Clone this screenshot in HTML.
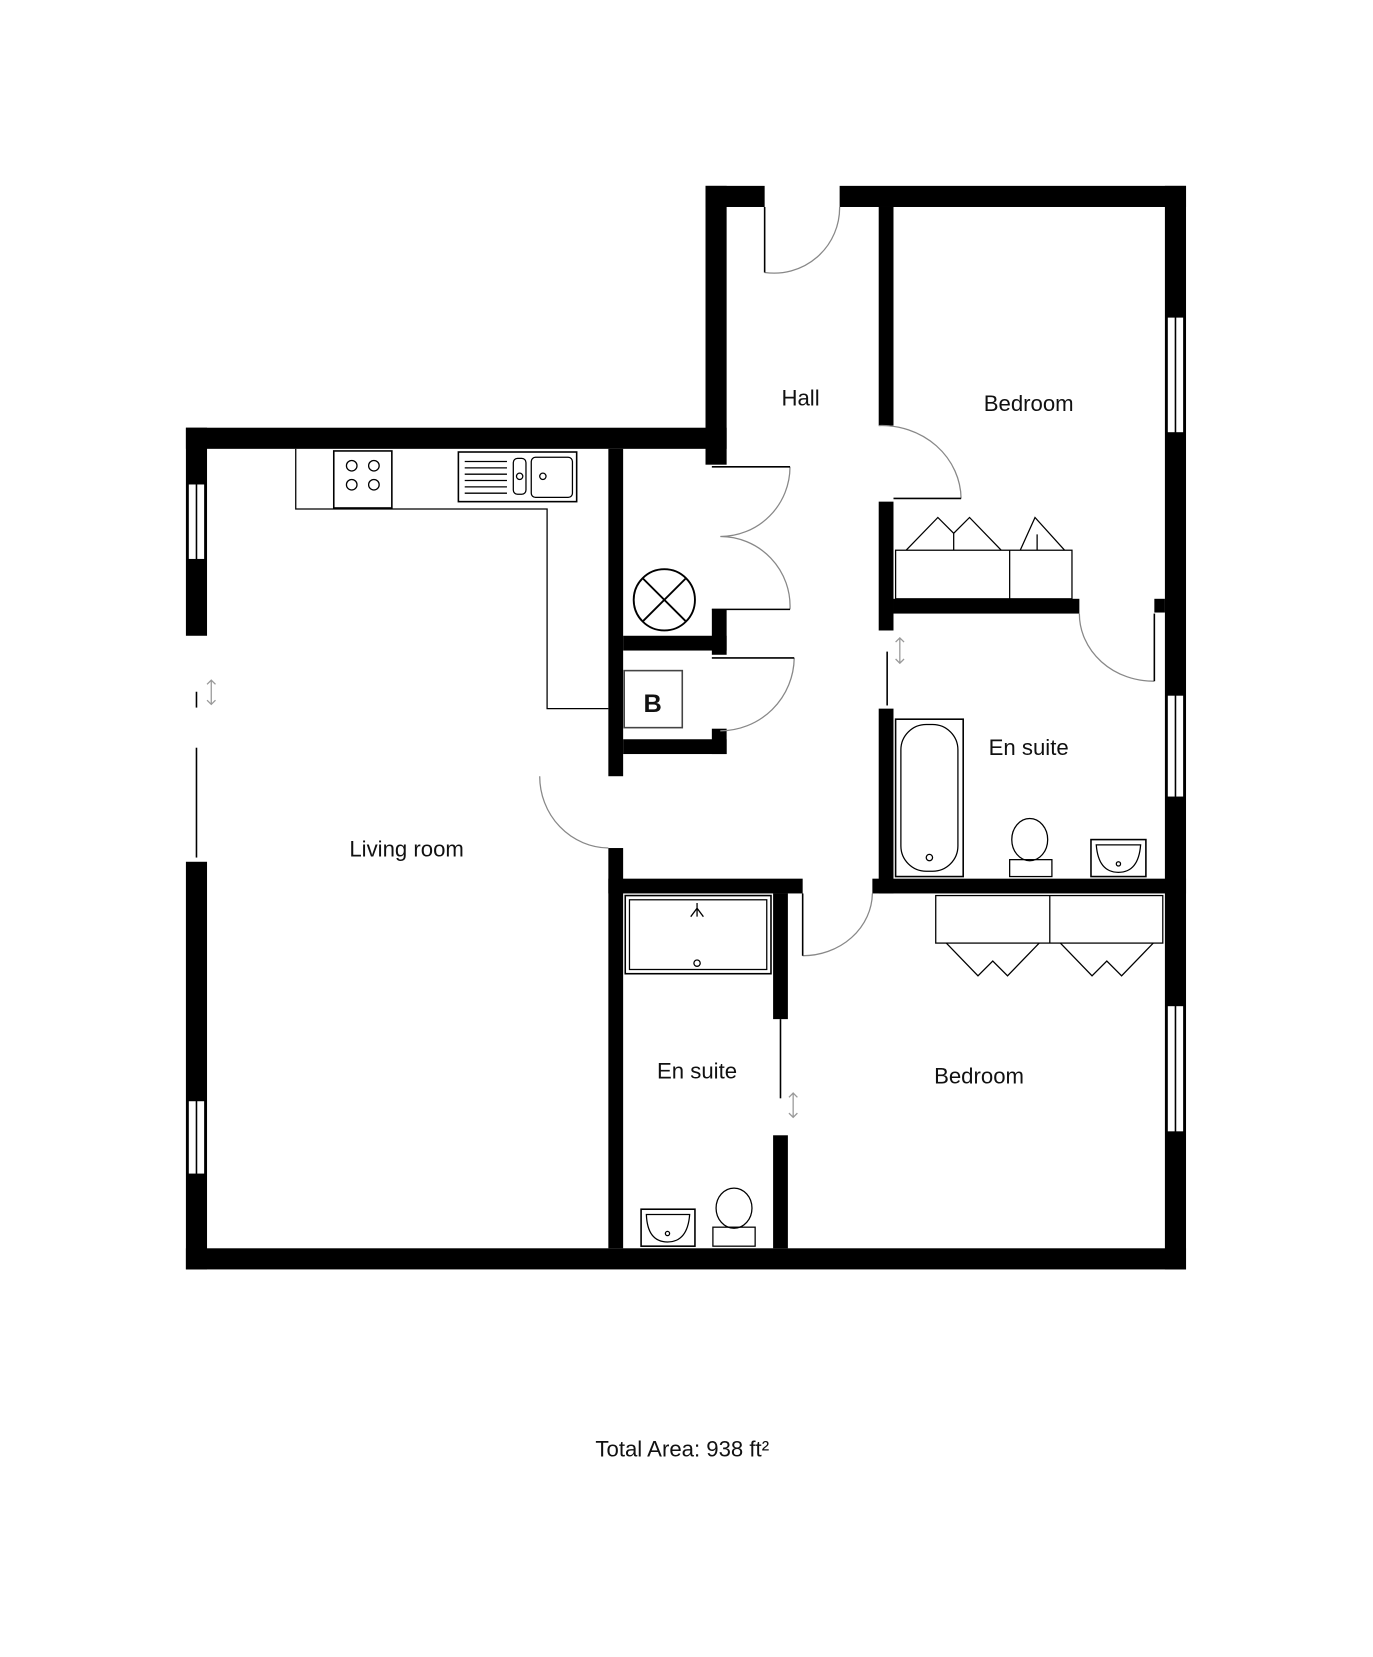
<!DOCTYPE html>
<html><head><meta charset="utf-8"><style>html,body{margin:0;padding:0;background:#fff}svg{display:block}text{font-family:"Liberation Sans",sans-serif;fill:#111}</style></head>
<body>
<svg width="1373" height="1657" viewBox="0 0 1300 1569" xmlns="http://www.w3.org/2000/svg">
<g fill="#000">
<!-- outer walls -->
<rect x="176" y="405" width="512" height="20"/>
<rect x="668" y="176" width="20" height="264"/>
<rect x="668" y="176" width="56" height="20"/>
<rect x="795" y="176" width="328" height="20"/>
<rect x="1103" y="176" width="20" height="1026"/>
<rect x="176" y="1182" width="947" height="20"/>
<rect x="176" y="405" width="20" height="197"/>
<rect x="176" y="816" width="20" height="386"/>
<!-- interior -->
<rect x="576" y="425" width="14" height="310"/>
<rect x="576" y="803" width="14" height="379"/>
<rect x="590" y="602" width="98" height="14"/>
<rect x="590" y="700" width="98" height="14"/>
<rect x="674" y="577" width="14" height="43"/>
<rect x="674" y="690" width="14" height="24"/>
<rect x="832" y="196" width="14" height="207"/>
<rect x="832" y="475" width="14" height="122"/>
<rect x="846" y="567" width="176" height="14"/>
<rect x="1093" y="567" width="10" height="13"/>
<rect x="832" y="671" width="14" height="175"/>
<rect x="826" y="832" width="297" height="14"/>
<rect x="576" y="832" width="184" height="14"/>
<rect x="732" y="846" width="14" height="119"/>
<rect x="732" y="1075" width="14" height="107"/>
</g>
<!-- windows -->
<g fill="#fff" stroke="#000" stroke-width="1.5">
<rect x="178" y="458" width="16" height="72"/><line x1="186" y1="458" x2="186" y2="530"/>
<rect x="178" y="1042" width="16" height="70"/><line x1="186" y1="1042" x2="186" y2="1112"/>
<rect x="1105" y="300" width="16" height="110"/><line x1="1113" y1="300" x2="1113" y2="410"/>
<rect x="1105" y="658" width="16" height="97"/><line x1="1113" y1="658" x2="1113" y2="755"/>
<rect x="1105" y="952" width="16" height="120"/><line x1="1113" y1="952" x2="1113" y2="1072"/>
</g>
<!-- doors -->
<g fill="none" stroke="#888" stroke-width="1.2">
<path d="M724 258 A62 62 0 0 0 795 196"/>
<path d="M832 403 A75 70 0 0 1 910 472"/>
<path d="M748 442 A66 66 0 0 1 682 508 A66 66 0 0 1 748 577"/>
<path d="M752 623 A70 70 0 0 1 682 692"/>
<path d="M511 735 A66 68 0 0 0 576 803"/>
<path d="M1022 581 A70 64 0 0 0 1093 645"/>
<path d="M760 905 A66 60 0 0 0 826 846"/>
</g>
<g stroke="#000" stroke-width="1.5">
<line x1="724" y1="196" x2="724" y2="258"/>
<line x1="846" y1="472" x2="910" y2="472"/>
<line x1="674" y1="442" x2="748" y2="442"/>
<line x1="674" y1="577" x2="748" y2="577"/>
<line x1="674" y1="623" x2="752" y2="623"/>
<line x1="1093" y1="581" x2="1093" y2="645"/>
<line x1="760" y1="846" x2="760" y2="905"/>
<line x1="840" y1="617" x2="840" y2="668"/>
<line x1="739" y1="965" x2="739" y2="1040"/>
<line x1="186" y1="655" x2="186" y2="670"/>
<line x1="186" y1="708" x2="186" y2="812"/>
</g>
<g fill="none" stroke="#999" stroke-width="1.2">
<path d="M852 604 V628 M848 608 L852 604 L856 608 M848 624 L852 628 L856 624"/>
<path d="M751 1035 V1058 M747 1039 L751 1035 L755 1039 M747 1054 L751 1058 L755 1054"/>
<path d="M200 644 V667 M196 648 L200 644 L204 648 M196 663 L200 667 L204 663"/>
</g>
<!-- kitchen -->
<g fill="none" stroke="#000" stroke-width="1.2">
<path d="M280 425 V482 H518 V671 H576"/>
<rect x="316" y="427" width="55" height="54" stroke-width="1.5"/>
<circle cx="333" cy="441" r="5"/><circle cx="354" cy="441" r="5"/><circle cx="333" cy="459" r="5"/><circle cx="354" cy="459" r="5"/>
<rect x="434" y="428" width="112" height="47" stroke-width="1.5"/>
<rect x="486" y="434" width="12" height="34" rx="4"/>
<rect x="503" y="433" width="39" height="38" rx="4"/>
<circle cx="492" cy="451" r="3"/><circle cx="514" cy="451" r="3"/>
<path d="M440 437 H480 M440 443 H480 M440 449 H480 M440 455 H480 M440 461 H480 M440 467 H480"/>
<!-- mvhr / cupboard -->
<circle cx="629" cy="568" r="29" stroke-width="1.8"/>
<path d="M609 548 L649 588 M649 548 L609 588" stroke-width="1.8"/>
<rect x="591" y="635" width="55" height="54" stroke="#444" stroke-width="1.5"/>
<!-- wardrobes -->
<rect x="848" y="521" width="167" height="46"/><line x1="956" y1="521" x2="956" y2="567"/>
<path d="M858 521 L888 490 L903 505 M903 521 L903 505 L918 490 L948 521 M966 521 L980 490 L1008 521 M982 506 L982 521"/>
<rect x="886" y="848" width="215" height="45"/><line x1="994" y1="848" x2="994" y2="893"/>
<path d="M896 893 L926 924 L940 910 L954 924 L984 893 M1004 893 L1034 924 L1048 910 L1062 924 L1092 893"/>
<!-- bath -->
<rect x="848" y="681" width="64" height="149" stroke-width="1.5"/>
<rect x="853" y="686" width="54" height="139" rx="24"/>
<circle cx="880" cy="812" r="3"/>
<!-- toilet en suite 1 -->
<ellipse cx="975" cy="795" rx="17" ry="20"/>
<rect x="956" y="814" width="40" height="16"/>
<rect x="1033" y="795" width="52" height="35" stroke-width="1.5"/>
<path d="M1038 800 H1080 Q1078 826 1059 826 Q1040 826 1038 800 Z"/><circle cx="1059" cy="818" r="2"/>
<!-- shower -->
<rect x="592" y="848" width="138" height="74" stroke-width="1.5"/>
<rect x="596" y="852" width="130" height="66"/>
<circle cx="660" cy="912" r="3"/>
<path d="M660 855 V868 M654 868 L660 860 L666 868"/>
<!-- lower en suite -->
<rect x="607" y="1145" width="51" height="35" stroke-width="1.5"/>
<path d="M612 1150 H653 Q651 1176 632 1176 Q613 1176 612 1150 Z"/><circle cx="632" cy="1168" r="2"/>
<ellipse cx="695" cy="1144" rx="17" ry="19"/>
<rect x="675" y="1162" width="40" height="18"/>
</g>
<text x="618" y="674" font-size="24" font-weight="bold" text-anchor="middle">B</text>
<g font-size="21" text-anchor="middle">
<text x="758" y="384">Hall</text>
<text x="974" y="389">Bedroom</text>
<text x="974" y="715">En suite</text>
<text x="385" y="811">Living room</text>
<text x="660" y="1021">En suite</text>
<text x="927" y="1026">Bedroom</text>
<text x="646" y="1379">Total Area: 938 ft²</text>
</g>
</svg>
</body></html>
